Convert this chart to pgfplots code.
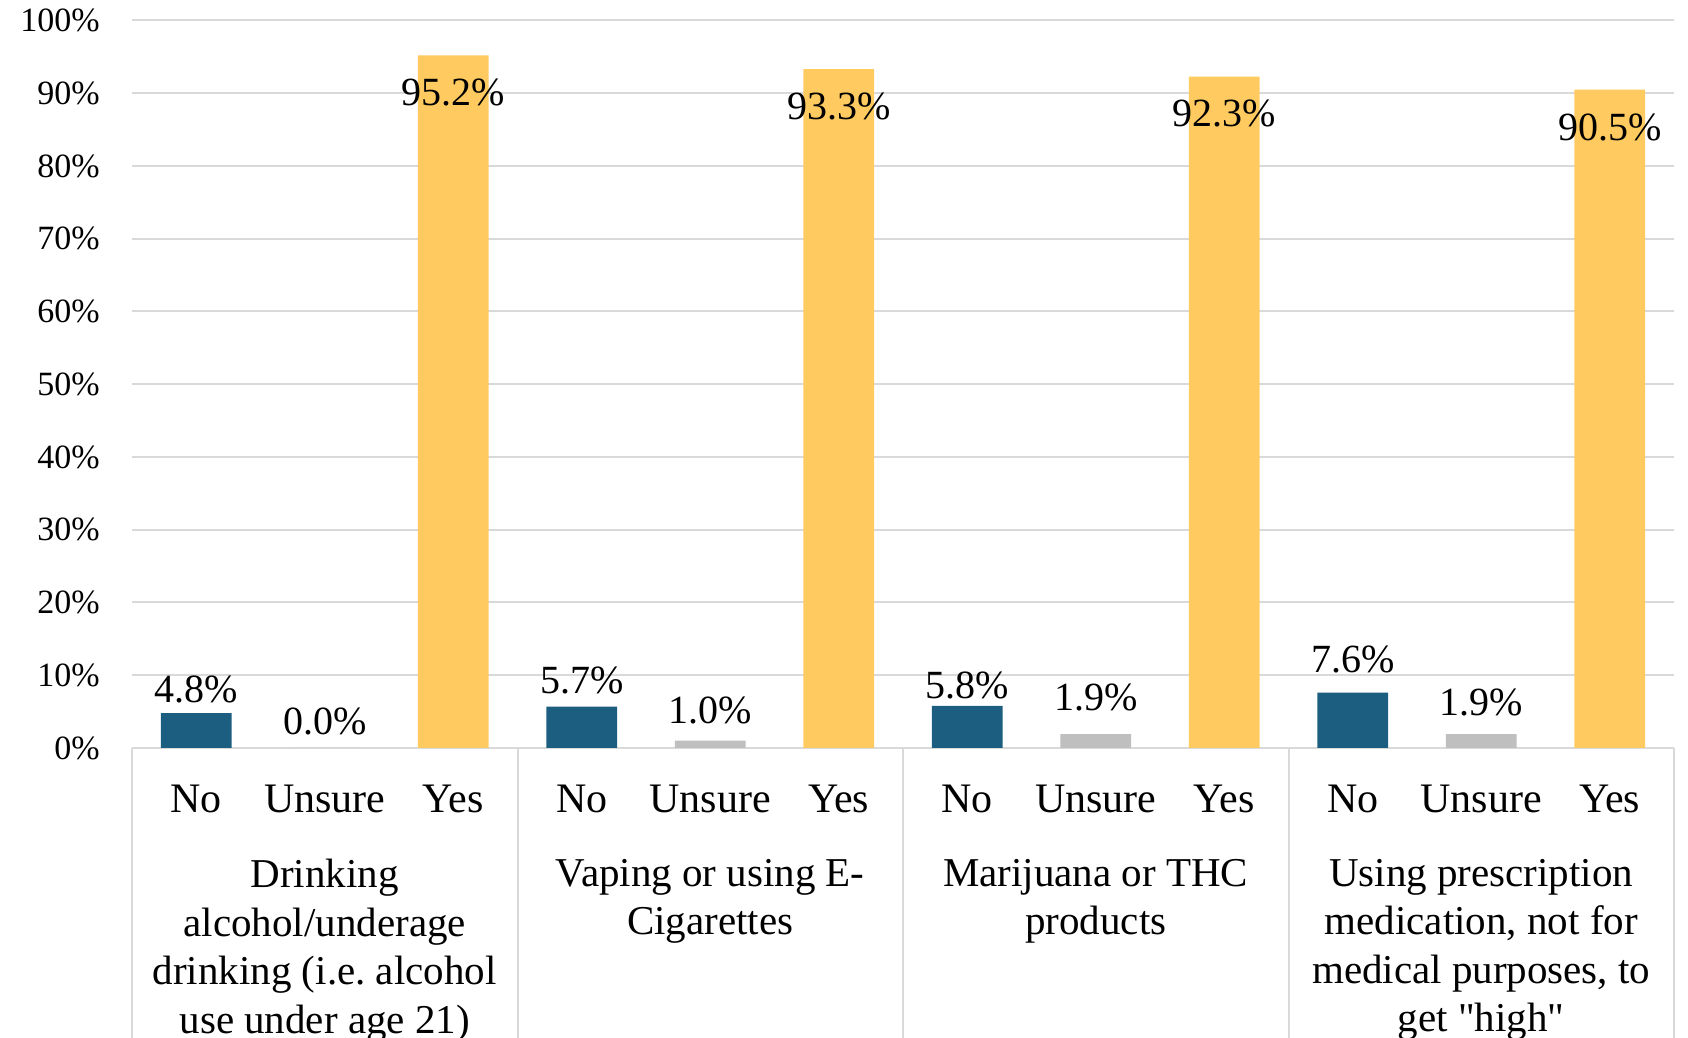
\documentclass[border=0pt]{standalone}
\usepackage{fontspec}
\setmainfont{Liberation Serif}[Ligatures=TeXOff]
\usepackage{pgfplots}
\pgfplotsset{compat=1.18}
\usepackage{pgfplotstable}
\definecolor{cno}{HTML}{1B5E80}
\definecolor{cun}{HTML}{BFBFBF}
\definecolor{cyes}{HTML}{FFCA5F}
\definecolor{gridc}{HTML}{D9D9D9}

\pgfplotstableread{
x y off
0 4.8 11.8
3 5.7 13.2
6 5.8 10.2
9 7.6 16.5
}\tno
\pgfplotstableread{
x y off
1 0.0 13.5
4 1.0 15
7 1.9 18.3
10 1.9 16
}\tun
\pgfplotstableread{
x y off
2 95.2 -18.3
5 93.3 -18.7
8 92.3 -18.3
11 90.5 -18.7
}\tyes

\begin{document}
\begin{tikzpicture}
\begin{axis}[name=ax,
  scale only axis, width=771pt, height=363.75pt,
  xmin=-0.5, xmax=11.5, ymin=0, ymax=100,
  ytick={0,10,...,100}, xtick={0,...,11},
  xticklabels={No,Unsure,Yes,No,Unsure,Yes,No,Unsure,Yes,No,Unsure,Yes},
  ymajorgrids, grid style={draw=gridc, line width=1pt},
  axis line style={draw=none},
  major tick length=0pt,
  /pgf/number format/assume math mode=true,
  yticklabel={\pgfmathprintnumber{\tick}\%},
  yticklabel style={font=\fontsize{17}{20}\selectfont, inner sep=0pt, anchor=east, xshift=-16pt},
  xticklabel style={font=\fontsize{21}{24}\selectfont, inner sep=0pt, anchor=base, yshift=-32.5pt},
  ybar, bar width=0.55, bar shift=0pt, clip=false,
  nodes near coords={\pgfmathprintnumber[fixed,fixed zerofill,precision=1]{\pgfplotspointmeta}\%},
  every node near coord/.style={font=\fontsize{20}{24}\selectfont, anchor=center, text=black, inner sep=0pt},
]
\addplot[fill=cno, draw=none, visualization depends on={\thisrow{off} \as \off},
  every node near coord/.append style={yshift=\off pt}] table[x=x,y=y] {\tno};
\addplot[fill=cun, draw=none, visualization depends on={\thisrow{off} \as \off},
  every node near coord/.append style={yshift=\off pt}] table[x=x,y=y] {\tun};
\addplot[fill=cyes, draw=none, visualization depends on={\thisrow{off} \as \off},
  every node near coord/.append style={yshift=\off pt}] table[x=x,y=y] {\tyes};

\draw[gridc, line width=1pt] (axis cs:-0.5,0) -- ([yshift=-160pt]axis cs:-0.5,0);
\draw[gridc, line width=1pt] (axis cs:2.5,0) -- ([yshift=-160pt]axis cs:2.5,0);
\draw[gridc, line width=1pt] (axis cs:5.5,0) -- ([yshift=-160pt]axis cs:5.5,0);
\draw[gridc, line width=1pt] (axis cs:8.5,0) -- ([yshift=-160pt]axis cs:8.5,0);
\draw[gridc, line width=1pt] (axis cs:11.5,0) -- ([yshift=-160pt]axis cs:11.5,0);
\tikzset{grp/.style={font=\fontsize{20.5}{24.2}\selectfont, align=center, anchor=north, inner sep=0pt, yshift=-55.5pt}}
\node[grp] at (axis cs:1,0) {Drinking\\alcohol/underage\\drinking (i.e.\ alcohol\\use under age 21)};
\node[grp] at (axis cs:4,0) {Vaping or using E-\\Cigarettes};
\node[grp] at (axis cs:7,0) {Marijuana or THC\\products};
\node[grp] at (axis cs:10,0) {Using prescription\\medication, not for\\medical purposes, to\\get "high"};
\end{axis}
\pgfresetboundingbox
\useasboundingbox ([shift={(-66pt,-145pt)}]ax.south west) rectangle ([shift={(7pt,10.25pt)}]ax.north east);
\end{tikzpicture}
\end{document}
